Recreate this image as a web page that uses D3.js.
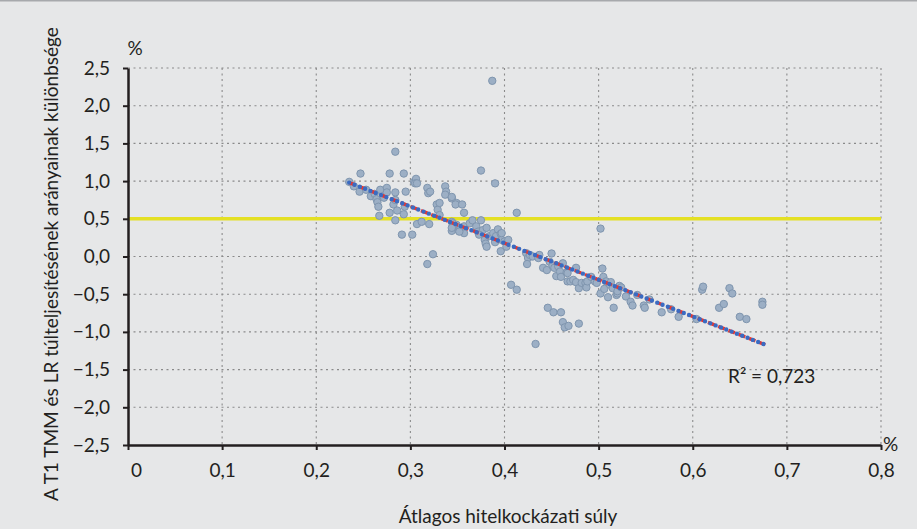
<html>
<head>
<meta charset="utf-8">
<style>
  body { margin: 0; background: #e6e7e8; }
  text { font-family: Lato, 'Open Sans', sans-serif; fill: #231f20; }
</style>
</head>
<body>
  <div id = 'chart'></div>
  <script src = 'https://cdn.jsdelivr.net/npm/d3@7/dist/d3.min.js'></script>
  <script>
    // scatter: average credit risk weight (x) vs difference of over-fulfilment ratios (y)
    var riskWeight = [
      0.235,0.240,0.246,0.247,0.253,0.258,0.262,0.264,0.265,0.266,0.267,0.268,0.272,0.275,0.275,0.278,0.278,0.282,0.284,0.284,
      0.284,0.284,0.286,0.291,0.293,0.293,0.295,0.294,0.302,0.304,0.306,0.305,0.307,0.307,0.312,0.318,0.319,0.321,0.320,0.324,
      0.318,0.328,0.329,0.331,0.331,0.337,0.338,0.337,0.344,0.349,0.344,0.344,0.345,0.349,0.351,
      0.344,0.348,0.355,0.357,0.345,0.352,0.357,0.357,0.363,0.366,0.370,0.375,0.372,0.377,0.381,0.379,0.380,0.381,0.384,0.388,
      0.391,0.393,0.396,0.397,0.396,0.400,0.402,0.404,0.375,0.390,0.387,0.413,0.407,0.413,0.373,0.390,0.397,0.344,0.352,
      0.423,0.425,0.424,0.427,0.430,0.436,0.437,0.441,0.445,0.448,0.450,0.451,0.453,0.455,0.457,0.459,0.460,0.462,0.466,0.467,
      0.467,0.433,0.446,0.452,0.460,0.462,0.464,0.468,0.479,
      0.470,0.473,0.476,0.476,0.479,0.482,0.486,0.487,0.488,0.492,0.496,0.498,0.502,0.502,0.504,0.505,0.506,0.508,0.510,0.512,
      0.513,0.515,0.516,0.519,0.520,0.520,0.522,0.524,0.529,0.534,0.536,0.541,0.548,0.549,0.554,0.567,0.577,0.585,
      0.604,0.610,0.611,0.628,0.633,0.639,0.642,0.650,0.657,0.674,0.674
    ];
    var ratioDiff = [
      0.99,0.93,0.86,1.10,0.885,0.80,0.83,0.76,0.72,0.66,0.54,0.885,0.78,0.91,0.85,1.10,0.58,0.69,1.39,0.75,
      0.85,0.48,0.61,0.29,1.10,0.56,0.86,0.66,0.29,0.99,1.03,0.97,0.97,0.43,0.46,0.91,0.84,0.86,0.43,0.03,
      -0.10,0.69,0.62,0.71,0.55,0.93,0.86,0.82,0.77,0.71,0.46,0.34,0.40,0.42,0.35,
      0.79,0.69,0.69,0.58,0.44,0.35,0.31,0.40,0.44,0.48,0.40,0.48,0.33,0.35,0.38,0.22,0.17,0.13,0.27,0.31,
      0.27,0.36,0.30,0.22,0.07,0.20,0.13,0.22,1.14,0.97,2.33,0.58,-0.375,-0.44,0.29,0.19,0.31,0.38,0.33,
      0.045,-0.02,-0.10,0.02,0.00,-0.02,0.02,-0.15,-0.18,-0.07,0.04,-0.12,-0.15,-0.26,-0.13,-0.20,-0.27,-0.09,-0.21,-0.33,
      -0.22,-1.16,-0.68,-0.74,-0.74,-0.87,-0.94,-0.92,-0.89,
      -0.33,-0.31,-0.15,-0.34,-0.42,-0.35,-0.35,-0.41,-0.33,-0.27,-0.33,-0.35,0.37,-0.49,-0.16,-0.27,-0.43,-0.33,-0.54,-0.375,
      -0.34,-0.42,-0.68,-0.51,-0.49,-0.46,-0.39,-0.41,-0.53,-0.60,-0.65,-0.51,-0.65,-0.68,-0.57,-0.74,-0.70,-0.80,
      -0.83,-0.44,-0.40,-0.68,-0.63,-0.42,-0.49,-0.80,-0.83,-0.60,-0.64
    ];

    // linear trendline as drawn in the picture
    var trendX = [0.235, 0.677],
        trendY = [0.98, -1.17],
        rSquared = 'R² = 0,723',
        limitY = 0.5;

    var xTicks = [0, 0.1, 0.2, 0.3, 0.4, 0.5, 0.6, 0.7, 0.8],
        xTickLabels = ['0','0,1','0,2','0,3','0,4','0,5','0,6','0,7','0,8'],
        yTicks = [2.5, 2, 1.5, 1, 0.5, 0, -0.5, -1, -1.5, -2, -2.5],
        yTickLabels = ['2,5','2,0','1,5','1,0','0,5','0,0','\u22120,5','\u22121,0','\u22121,5','\u22122,0','\u22122,5'];

    var svgWidth = 917,
        svgHeight = 529,
        plotLeft = 128, plotRight = 881, plotTop = 68, plotBottom = 445;

    var svg = d3.select('#chart').append('svg')
                .attr('width', svgWidth)
                .attr('height', svgHeight);

    svg.append('rect')
      .attr('width', svgWidth).attr('height', svgHeight)
      .attr('fill', '#e6e7e8');
    svg.append('line')
      .attr('x1', 0).attr('x2', svgWidth).attr('y1', 0.5).attr('y2', 0.5)
      .attr('stroke', '#a7a9ac').attr('stroke-width', 2);

    var x = d3.scaleLinear().domain([0, 0.8]).range([plotLeft, plotRight]),
        y = d3.scaleLinear().domain([-2.5, 2.5]).range([plotBottom, plotTop]);

    // dotted grid
    var grid = svg.append('g')
      .attr('stroke', '#8a8a8a').attr('stroke-width', 1.1)
      .attr('stroke-dasharray', '2,3.5');
    grid.selectAll('.hgrid')
      .data(yTicks.filter(function(d){ return d !== -2.5 && d !== limitY; }))
      .enter().append('line')
      .attr('x1', plotLeft).attr('x2', plotRight)
      .attr('y1', function(d){ return y(d); })
      .attr('y2', function(d){ return y(d); });
    grid.selectAll('.vgrid')
      .data(xTicks.filter(function(d){ return d !== 0; }))
      .enter().append('line')
      .attr('y1', plotTop).attr('y2', plotBottom)
      .attr('x1', function(d){ return x(d); })
      .attr('x2', function(d){ return x(d); });

    // yellow reference line
    svg.append('line')
      .attr('x1', plotLeft).attr('x2', plotRight)
      .attr('y1', y(limitY)).attr('y2', y(limitY))
      .attr('stroke', '#e4e024').attr('stroke-width', 3.5);

    // points
    svg.append('g').selectAll('circle')
      .data(riskWeight)
      .enter().append('circle')
      .attr('cx', function(d){ return x(d); })
      .attr('cy', function(d, i){ return y(ratioDiff[i]); })
      .attr('r', 3.7)
      .attr('fill', '#9cafc5')
      .attr('stroke', '#7f95ae')
      .attr('stroke-width', 1);

    // trendline: red dashes under blue round dots
    var trendPts = trendX.map(function(d, i){ return [x(d), y(trendY[i])]; });
    var line = d3.line();
    svg.append('path')
      .attr('d', line(trendPts))
      .attr('stroke', '#e8362f').attr('stroke-width', 3.4)
      .attr('stroke-dasharray', '7,4').attr('fill', 'none');
    svg.append('path')
      .attr('d', line(trendPts))
      .attr('stroke', '#3a6bc2').attr('stroke-width', 4.4)
      .attr('stroke-linecap', 'round')
      .attr('stroke-dasharray', '0,5.7').attr('fill', 'none');

    // axes
    var yAxis = d3.axisLeft(y)
      .tickValues(yTicks)
      .tickFormat(function(d, i){ return yTickLabels[i]; })
      .tickSize(5).tickSizeOuter(0).tickPadding(13);
    var xAxis = d3.axisBottom(x)
      .tickValues(xTicks)
      .tickFormat(function(d, i){ return xTickLabels[i]; })
      .tickSize(5).tickSizeOuter(0).tickPadding(14);

    var gy = svg.append('g').attr('transform', 'translate(' + plotLeft + ',0)').call(yAxis);
    var gx = svg.append('g').attr('transform', 'translate(0,' + plotBottom + ')').call(xAxis);
    [gx, gy].forEach(function(g){
      g.select('.domain').attr('stroke', '#231f20').attr('stroke-width', 2.5);
      g.selectAll('.tick line').attr('stroke', '#231f20').attr('stroke-width', 2);
      g.selectAll('.tick text')
        .attr('font-family', 'Lato, sans-serif')
        .attr('font-size', 19)
        .attr('fill', '#231f20');
    });
    // the "0" label sits a little right of its tick
    gx.selectAll('.tick text').filter(function(d){ return d === 0; }).attr('dx', 8);

    // units and titles
    svg.append('text')
      .attr('x', 135).attr('y', 55)
      .attr('text-anchor', 'middle').attr('font-size', 19)
      .text('%');
    svg.append('text')
      .attr('x', 883).attr('y', 451)
      .attr('font-size', 19)
      .text('%');
    svg.append('text')
      .attr('x', 728).attr('y', 383)
      .attr('font-size', 19)
      .text(rSquared);
    svg.append('text')
      .attr('x', 508).attr('y', 523)
      .attr('text-anchor', 'middle').attr('font-size', 19)
      .text('Átlagos hitelkockázati súly');
    svg.append('text')
      .attr('transform', 'translate(58,264) rotate(-90)')
      .attr('text-anchor', 'middle').attr('font-size', 19)
      .text('A T1 TMM és LR túlteljesítésének arányainak különbsége');
  </script>
</body>
</html>
